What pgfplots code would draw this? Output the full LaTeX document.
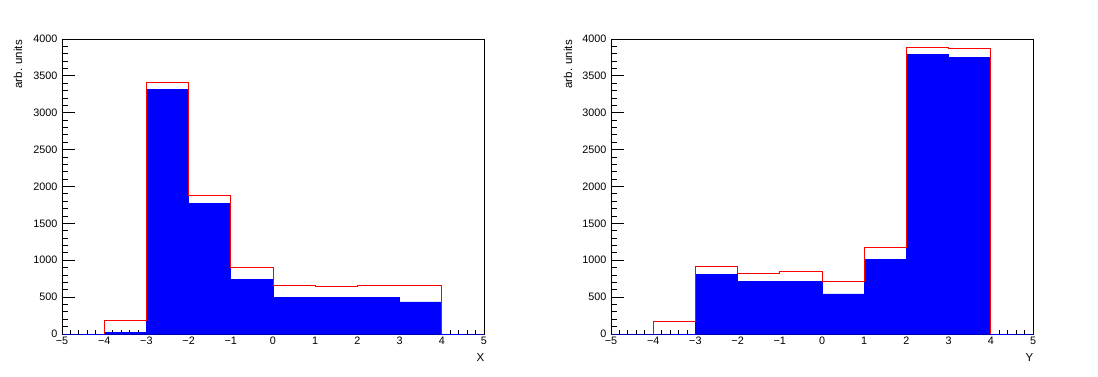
\documentclass[border=0pt]{standalone}
\usepackage{fontspec}
\setmainfont{Liberation Sans}
\usepackage{pgfplots}
\pgfplotsset{compat=1.18}
\newcommand{\lblfont}{\fontsize{10.8}{12}\selectfont}
\newcommand{\ttlfont}{\fontsize{11.5}{13}\selectfont}
\pgfplotsset{rootaxis/.style={
  scale only axis, width=422pt, height=295pt,
  xmin=-5, xmax=5, ymin=0, ymax=4000,
  xtick={-5,-4,-3,-2,-1,0,1,2,3,4,5},
  xticklabels={−5,−4,−3,−2,−1,0,1,2,3,4,5},
  ytick={0,500,1000,1500,2000,2500,3000,3500,4000},
  yticklabels={0,500,1000,1500,2000,2500,3000,3500,4000},
  minor x tick num=4, minor y tick num=4,
  tick pos=left, tick align=inside,
  axis line style={line width=0.9pt, black},
  tick label style={font=\lblfont},
  xticklabel style={inner sep=0pt, yshift=-2.7pt},
  yticklabel style={inner sep=0pt, xshift=-4.5pt},
  xtick style={black, line width=0.8pt, /pgfplots/major tick length=8.8pt, /pgfplots/minor tick length=4.4pt},
  ytick style={black, line width=0.8pt, /pgfplots/major tick length=12.7pt, /pgfplots/minor tick length=6.3pt},
}}
\begin{document}
\begin{tikzpicture}
\useasboundingbox (0pt,0pt) rectangle (1098pt,376pt);
\begin{axis}[rootaxis, at={(62pt,42pt)}, anchor=south west]
\addplot[const plot mark left, fill=blue, draw=blue, line width=0.9pt] coordinates {(-5,0) (-4,27) (-3,3312) (-2,1765) (-1,733) (0,489) (1,489) (2,489) (3,434) (4,0) (5,0)} \closedcycle;
\addplot[const plot mark left, draw=red, line width=1pt] coordinates {(-4,0) (-4,185) (-3,3416) (-2,1882) (-1,905) (0,661) (1,647) (2,661) (3,661) (4,0)};
\end{axis}
\begin{axis}[rootaxis, at={(611pt,42pt)}, anchor=south west]
\addplot[const plot mark left, fill=blue, draw=blue, line width=0.9pt] coordinates {(-5,0) (-4,0) (-3,801) (-2,706) (-1,706) (0,543) (1,1005) (2,3787) (3,3747) (4,0) (5,0)} \closedcycle;
\addplot[const plot mark left, draw=red, line width=1pt] coordinates {(-4,0) (-4,172) (-3,919) (-2,824) (-1,851) (0,715) (1,1176) (2,3891) (3,3878) (4,0)};
\end{axis}
\node[rotate=90, anchor=east, font=\ttlfont, inner sep=0pt] at (18pt,336pt) {arb. units};
\node[rotate=90, anchor=east, font=\ttlfont, inner sep=0pt] at (568pt,336pt) {arb. units};
\node[anchor=base east, font=\ttlfont, inner sep=0pt] at (484.5pt,14.3pt) {X};
\node[anchor=base east, font=\ttlfont, inner sep=0pt] at (1033.5pt,14.3pt) {Y};
\end{tikzpicture}
\end{document}
